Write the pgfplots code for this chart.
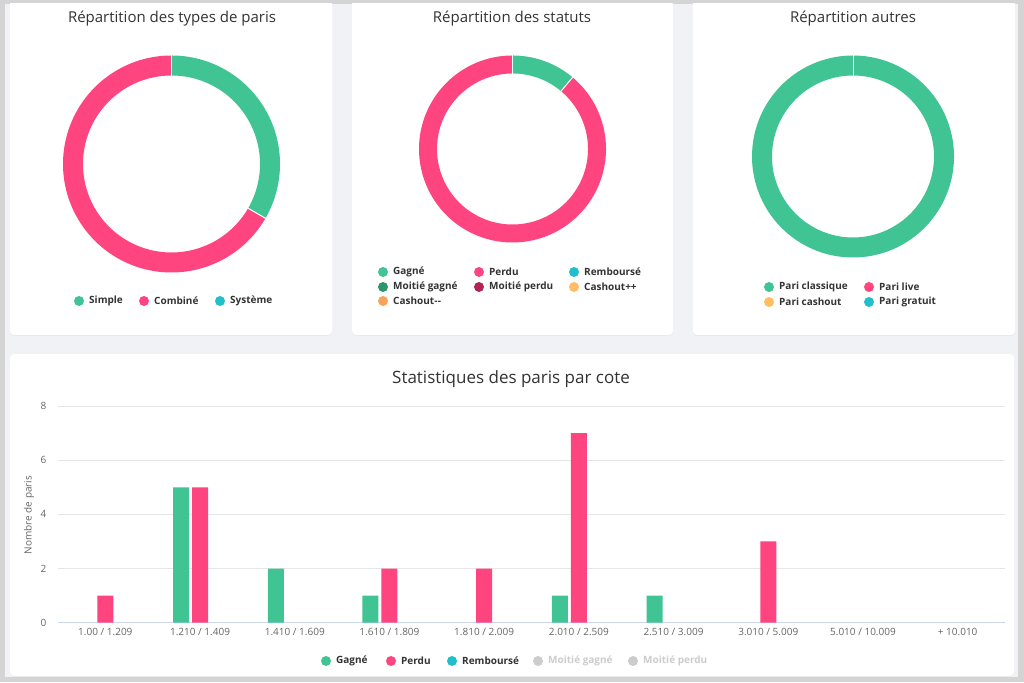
\documentclass[border=0pt]{standalone}
\usepackage{fontspec}
\setmainfont{Open Sans}
\usepackage{pgfplots}
\pgfplotsset{compat=1.18}
\usepgfplotslibrary{polar}
\usetikzlibrary{shadows}
\definecolor{cgreen}{RGB}{64,196,148}
\definecolor{cpink}{RGB}{255,69,127}
\definecolor{ccyan}{RGB}{33,190,204}
\definecolor{cdgreen}{RGB}{46,150,110}
\definecolor{cdred}{RGB}{176,37,84}
\definecolor{cyell}{RGB}{255,190,100}
\definecolor{corange}{RGB}{247,163,92}
\definecolor{ctext}{RGB}{51,51,51}
\definecolor{ctick}{RGB}{102,102,102}
\definecolor{cgrid}{RGB}{230,230,230}
\definecolor{caxis}{RGB}{204,214,235}
\definecolor{chid}{RGB}{204,204,204}
\definecolor{cframe}{RGB}{212,212,212}
\definecolor{cbg}{RGB}{241,242,246}
% donut data: Simple 1, Combine 2, Systeme 0 -> Simple 90..-30, Combine -30..-270
% Statuts: Gagne 1, Perdu 8 -> Gagne 90..50, Perdu 50..-270
% Autres: Pari classique 1 -> 90..-270
\newcommand{\leg}[4]{% x, y(px from top), colour, text
  \pgfmathsetmacro\ly{682-#2}
  \fill[#3] (#1pt,\ly pt) circle[radius=5pt];
  \node[anchor=west,inner sep=0pt,text=ctext,font=\fontsize{10}{12}\selectfont\bfseries] at (#1pt+10pt,\ly pt) {#4};}
\newcommand{\legh}[3]{% hidden item
  \pgfmathsetmacro\ly{682-#2}
  \fill[chid] (#1pt,\ly pt) circle[radius=5pt];
  \node[anchor=west,inner sep=0pt,text=chid,font=\fontsize{10}{12}\selectfont\bfseries] at (#1pt+10pt,\ly pt) {#3};}
\begin{document}
\begin{tikzpicture}[x=1pt,y=1pt]
\fill[cframe] (0pt,0pt) rectangle (1024pt,682pt);
\fill[cbg] (5pt,5pt) rectangle (1018pt,678pt);
\begin{scope}
\clip (5pt,5pt) rectangle (1018pt,678pt);
\foreach \xa/\xb in {10/332,352/673,693/1015}{
  \fill[white,rounded corners=4pt,drop shadow={opacity=0.07,shadow xshift=0pt,shadow yshift=-1pt}] (\xa pt,347pt) rectangle (\xb pt,700pt);
}
\fill[white,rounded corners=4pt,drop shadow={opacity=0.07,shadow xshift=0pt,shadow yshift=-1pt}] (10pt,6pt) rectangle (1014pt,328pt);
\end{scope}
% titles
\node[text=ctext,font=\fontsize{15}{18}\selectfont] at (172pt,663pt) {Répartition des types de paris};
\node[text=ctext,font=\fontsize{15}{18}\selectfont] at (512pt,663pt) {Répartition des statuts};
\node[text=ctext,font=\fontsize{15}{18}\selectfont] at (853pt,663pt) {Répartition autres};
\node[text=ctext,font=\fontsize{17}{20}\selectfont] at (511pt,303pt) {Statistiques des paris par cote};
% donut 1
\begin{polaraxis}[at={(171.5pt,518pt)},anchor=center,scale only axis,width=217pt,height=217pt,
  hide axis,clip=false,xmin=0,xmax=360,ymin=0,ymax=108.5]
\addplot[cgreen,line width=20pt,domain=-30:90,samples=120,no markers] {98.5};
\addplot[cpink,line width=20pt,domain=-270:-30,samples=200,no markers] {98.5};
\addplot[white,line width=1pt] coordinates {(90,88) (90,109)};
\addplot[white,line width=1pt] coordinates {(-30,88) (-30,109)};
\end{polaraxis}
% donut 2
\begin{polaraxis}[at={(512.5pt,533pt)},anchor=center,scale only axis,width=187pt,height=187pt,
  hide axis,clip=false,xmin=0,xmax=360,ymin=0,ymax=93.5]
\addplot[cgreen,line width=18pt,domain=50:90,samples=60,no markers] {84.5};
\addplot[cpink,line width=18pt,domain=-270:50,samples=200,no markers] {84.5};
\addplot[white,line width=1pt] coordinates {(90,75) (90,94)};
\addplot[white,line width=1pt] coordinates {(50,75) (50,94)};
\end{polaraxis}
% donut 3
\begin{polaraxis}[at={(853pt,525.5pt)},anchor=center,scale only axis,width=202pt,height=202pt,
  hide axis,clip=false,xmin=0,xmax=360,ymin=0,ymax=101]
\addplot[cgreen,line width=20pt,domain=-270:90,samples=200,no markers] {91};
\addplot[white,line width=1pt] coordinates {(90,80.5) (90,101.5)};
\end{polaraxis}
% legends donuts
\leg{79}{301}{cgreen}{Simple}
\leg{144}{301}{cpink}{Combiné}
\leg{220}{301}{ccyan}{Système}
\leg{383}{272}{cgreen}{Gagné}
\leg{479}{272}{cpink}{Perdu}
\leg{574}{272}{ccyan}{Remboursé}
\leg{383}{287}{cdgreen}{Moitié gagné}
\leg{479}{287}{cdred}{Moitié perdu}
\leg{574}{287}{cyell}{Cashout++}
\leg{383}{301}{corange}{Cashout-\kern0.3pt-}
\leg{769}{287}{cgreen}{Pari classique}
\leg{869}{287}{cpink}{Pari live}
\leg{769}{302}{cyell}{Pari cashout}
\leg{869}{302}{ccyan}{Pari gratuit}
% bar chart
\begin{axis}[at={(58pt,59.3pt)},anchor=south west,scale only axis,width=947pt,height=216.7pt,
  xmin=-0.5,xmax=9.5,ymin=0,ymax=8,
  ybar,bar width=16pt,
  xtick={0,...,9},
  xticklabels={1.00 / 1.209,1.210 / 1.409,1.410 / 1.609,1.610 / 1.809,1.810 / 2.009,2.010 / 2.509,2.510 / 3.009,3.010 / 5.009,5.010 / 10.009,+ 10.010},
  ytick={0,2,4,6,8},
  /pgf/number format/assume math mode=true,
  ymajorgrids,grid style={cgrid,line width=0.8pt},
  axis x line*=bottom,axis y line*=left,
  x axis line style={caxis,line width=0.8pt,-},
  y axis line style={draw=none},
  major tick length=0pt,
  tick label style={text=ctick,font=\fontsize{10}{12}\selectfont},
  yticklabel style={xshift=-8pt},
  xticklabel style={yshift=-2pt},
  unbounded coords=discard,
  y filter/.expression={y==0 ? nan : y},
  clip=false]
\addplot[fill=cgreen,draw=none,bar shift=-19pt] coordinates {(0,0) (1,5) (2,2) (3,1) (4,0) (5,1) (6,1) (7,0) (8,0) (9,0)};
\addplot[fill=cpink,draw=none,bar shift=0pt] coordinates {(0,1) (1,5) (2,0) (3,2) (4,2) (5,7) (6,0) (7,3) (8,0) (9,0)};
\addplot[fill=ccyan,draw=none,bar shift=19pt] coordinates {(0,0) (1,0) (2,0) (3,0) (4,0) (5,0) (6,0) (7,0) (8,0) (9,0)};
\end{axis}
\node[rotate=90,text=ctick,font=\fontsize{10}{12}\selectfont] at (29pt,167pt) {Nombre de paris};
% bar legend
\leg{326}{661}{cgreen}{Gagné}
\leg{391}{661}{cpink}{Perdu}
\leg{452}{661}{ccyan}{Remboursé}
\legh{538}{661}{Moitié gagné}
\legh{633}{661}{Moitié perdu}
\end{tikzpicture}
\end{document}
